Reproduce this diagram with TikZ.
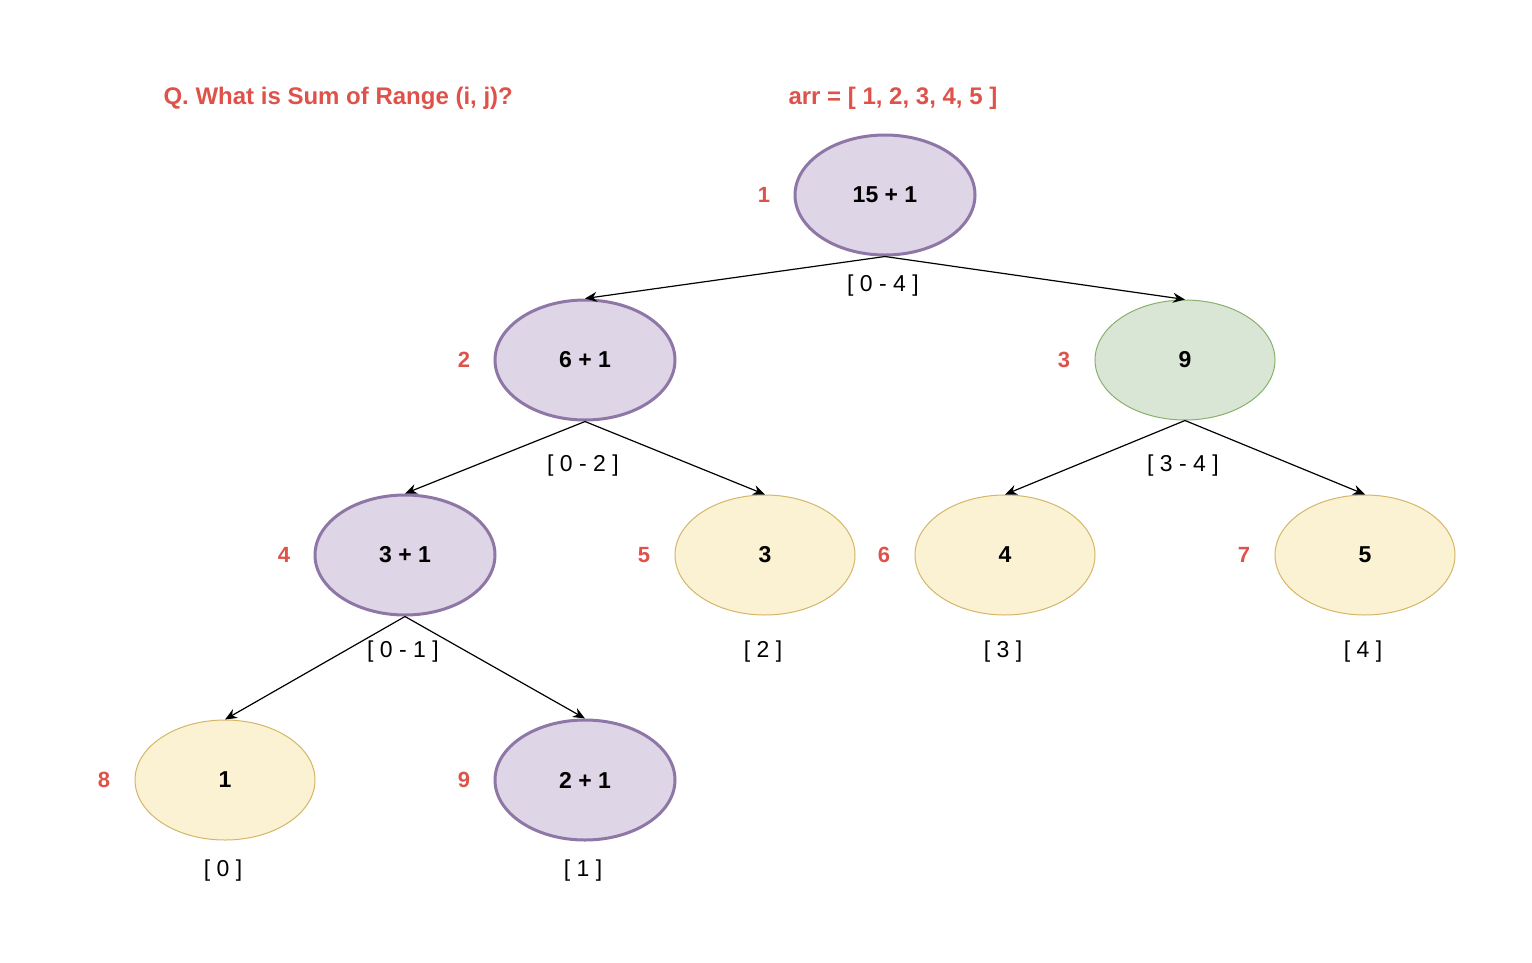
\documentclass[tikz,border=0pt]{standalone}
\usepackage{fontspec}
\setmainfont{Liberation Sans}
\usetikzlibrary{arrows.meta,shapes.geometric}
\definecolor{redtxt}{RGB}{222,82,74}
\definecolor{pfill}{RGB}{222,214,230}
\definecolor{pdraw}{RGB}{142,118,166}
\definecolor{gfill}{RGB}{218,230,213}
\definecolor{gdraw}{RGB}{138,176,108}
\definecolor{yfill}{RGB}{251,242,212}
\definecolor{ydraw}{RGB}{212,182,102}
\tikzset{
  base/.style={ellipse, minimum width=180pt, minimum height=120pt, inner sep=0pt, font=\fontsize{23}{27}\selectfont\bfseries},
  purp/.style={base, fill=pfill, draw=pdraw, line width=3pt},
  grn/.style={base, fill=gfill, draw=gdraw, line width=1pt},
  yel/.style={base, fill=yfill, draw=ydraw, line width=1pt},
  idx/.style={text=redtxt, font=\fontsize{22}{26}\selectfont\bfseries},
  rng/.style={font=\fontsize{23}{27}\selectfont},
  ttl/.style={text=redtxt, font=\fontsize{24}{28}\selectfont\bfseries, anchor=west},
  edge/.style={line width=1.2pt, -{Stealth[length=12pt,width=10pt]}}
}
\begin{document}
\begin{tikzpicture}[x=1pt,y=-1pt]
\useasboundingbox (0,0) rectangle (1532,962);
\node[ttl] (t1) at (160,98) {Q. What is Sum of Range (i, j)?};
\node[ttl] (t2) at (785,98) {arr = [ 1, 2, 3, 4, 5 ]};

\node[purp] (n1) at (885,195) {15 + 1};
\node[purp] (n2) at (585,360) {6 + 1};
\node[grn]  (n3) at (1185,360) {9};
\node[purp] (n4) at (405,555) {3 + 1};
\node[yel]  (n5) at (765,555) {3};
\node[yel]  (n6) at (1005,555) {4};
\node[yel]  (n7) at (1365,555) {5};
\node[yel]  (n8) at (225,780) {1};
\node[purp] (n9) at (585,780) {2 + 1};

\node[idx] (i1) at (764,195) {1};
\node[idx] (i2) at (464,360) {2};
\node[idx] (i3) at (1064,360) {3};
\node[idx] (i4) at (284,555) {4};
\node[idx] (i5) at (644,555) {5};
\node[idx] (i6) at (884,555) {6};
\node[idx] (i7) at (1244,555) {7};
\node[idx] (i8) at (104,780) {8};
\node[idx] (i9) at (464,780) {9};

\node[rng] (r1) at (883,286) {[ 0 - 4 ]};
\node[rng] (r2) at (583,466) {[ 0 - 2 ]};
\node[rng] (r3) at (1183,466) {[ 3 - 4 ]};
\node[rng] (r4) at (403,652) {[ 0 - 1 ]};
\node[rng] (r5) at (763,652) {[ 2 ]};
\node[rng] (r6) at (1003,652) {[ 3 ]};
\node[rng] (r7) at (1363,652) {[ 4 ]};
\node[rng] (r8) at (223,871) {[ 0 ]};
\node[rng] (r9) at (583,871) {[ 1 ]};

\draw[edge] (n1.south) -- (n2.north);
\draw[edge] (n1.south) -- (n3.north);
\draw[edge] (n2.south) -- (n4.north);
\draw[edge] (n2.south) -- (n5.north);
\draw[edge] (n3.south) -- (n6.north);
\draw[edge] (n3.south) -- (n7.north);
\draw[edge] (n4.south) -- (n8.north);
\draw[edge] (n4.south) -- (n9.north);
\end{tikzpicture}
\end{document}
